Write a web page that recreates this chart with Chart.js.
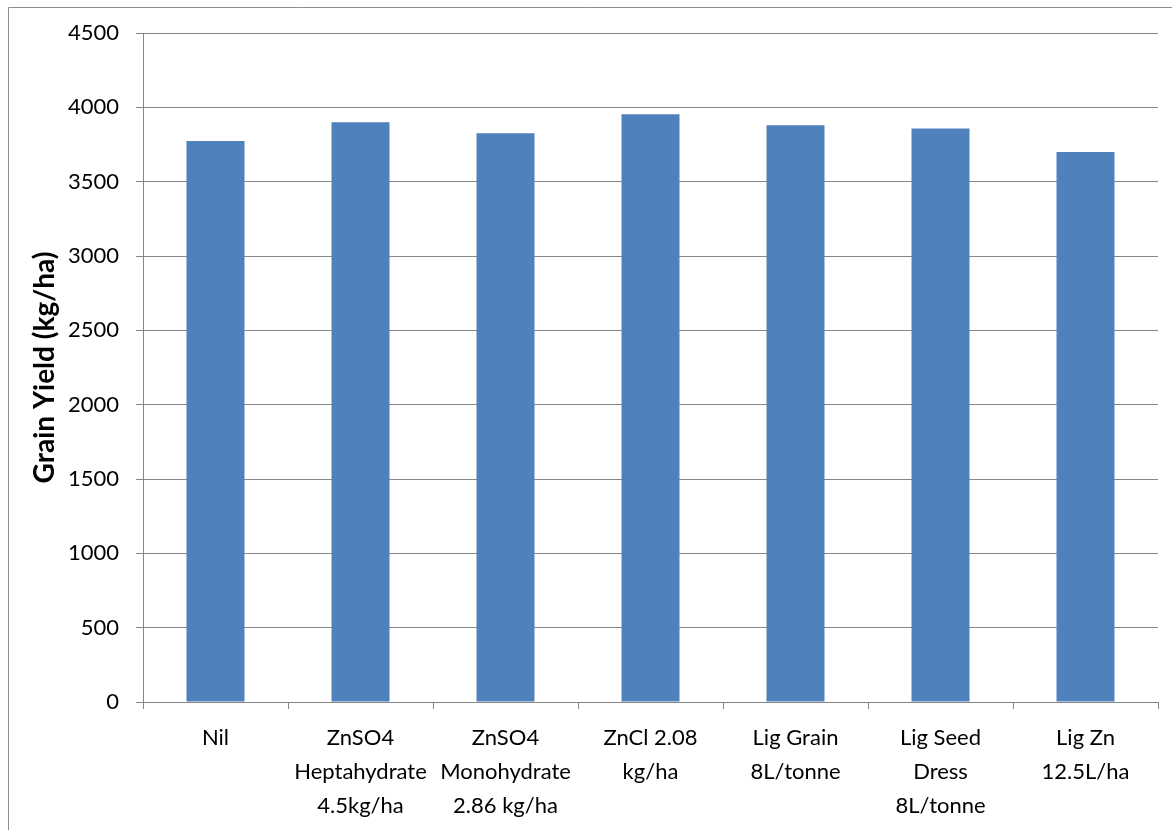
<!DOCTYPE html>
<html>
<head>
<meta charset="utf-8">
<script src="https://cdn.jsdelivr.net/npm/chart.js@4/dist/chart.umd.min.js"></script>
<style>
  html, body { margin: 0; padding: 0; background: #ffffff; }
  #wrap { position: relative; width: 1172px; height: 830px; }
</style>
</head>
<body>
<div id="wrap"><canvas id="c" width="1172" height="830"></canvas></div>
<script>
const categories = [
  ["Nil"],
  ["ZnSO4", "Heptahydrate", "4.5kg/ha"],
  ["ZnSO4", "Monohydrate", "2.86 kg/ha"],
  ["ZnCl 2.08", "kg/ha"],
  ["Lig Grain", "8L/tonne"],
  ["Lig Seed", "Dress", "8L/tonne"],
  ["Lig Zn", "12.5L/ha"]
];
const grainYield = [3773, 3899, 3825, 3953, 3879, 3857, 3700];
const yAxisTitle = "Grain Yield (kg/ha)";
const yMin = 0, yMax = 4500, yStep = 500;

const FONT = "Lato, 'Open Sans', 'Liberation Sans', sans-serif";
const GRID = "#868686";

const frame = {
  id: 'frame',
  beforeDraw(chart) {
    const ctx = chart.ctx;
    ctx.save();
    ctx.fillStyle = '#ffffff';
    ctx.fillRect(0, 0, chart.width, chart.height);
    ctx.strokeStyle = '#8c8c8c';
    ctx.lineWidth = 1;
    ctx.beginPath();
    ctx.moveTo(8.5, chart.height);
    ctx.lineTo(8.5, 7.5);
    ctx.lineTo(chart.width, 7.5);
    ctx.stroke();
    ctx.restore();
  }
};

new Chart(document.getElementById('c'), {
  type: 'bar',
  data: {
    labels: categories,
    datasets: [{
      data: grainYield,
      backgroundColor: '#4F81BD',
      borderWidth: 0,
      categoryPercentage: 1.0,
      barPercentage: 0.4
    }]
  },
  options: {
    responsive: false,
    animation: false,
    events: [],
    layout: { padding: { top: 33, right: 14, left: 0, bottom: 0 } },
    plugins: { legend: { display: false }, tooltip: { enabled: false } },
    scales: {
      x: {
        grid: {
          display: true,
          offset: true,
          drawOnChartArea: false,
          drawTicks: true,
          tickLength: 7,
          color: GRID,
          lineWidth: 1
        },
        border: { display: true, color: GRID, width: 1 },
        ticks: {
          color: '#000000',
          font: { family: FONT, size: 22, lineHeight: 1.55 },
          padding: 12,
          maxRotation: 0,
          autoSkip: false
        },
        afterFit(scale) { scale.height = 128; }
      },
      y: {
        min: yMin,
        max: yMax,
        grid: {
          color: GRID,
          lineWidth: 1,
          drawTicks: true,
          tickLength: 7
        },
        border: { display: true, color: GRID, width: 1 },
        ticks: {
          stepSize: yStep,
          color: '#000000',
          font: { family: FONT, size: 22 },
          padding: 17,
          callback: (v) => String(v)
        },
        title: {
          display: true,
          text: yAxisTitle,
          color: '#000000',
          font: { family: FONT, size: 28, weight: 'bold' },
          padding: { top: 28, bottom: 0 }
        },
        afterFit(scale) { scale.width = 143; }
      }
    }
  },
  plugins: [frame]
});
</script>
</body>
</html>
